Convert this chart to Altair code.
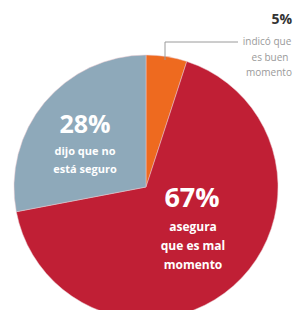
import altair as alt
import pandas as pd

categories = ["bueno", "malo", "no seguro"]
values = [5, 67, 28]
colors = ["#ee6a1f", "#c01f35", "#8ea9ba"]
order = [0, 1, 2]

df = pd.DataFrame({"cat": categories, "val": values, "ord": order})

CX, CY, R = 138, 179, 132

pie = alt.Chart(df).mark_arc(stroke="#e9c9ce", strokeWidth=0.5).encode(
    theta=alt.Theta("val:Q", stack=True),
    order=alt.Order("ord:Q"),
    color=alt.Color("cat:N", scale=alt.Scale(domain=categories, range=colors), legend=None),
    x=alt.value(CX), y=alt.value(CY), radius=alt.value(R),
)

base = alt.Chart(pd.DataFrame({"a": [0]}))

def txt(s, x, y, size, color, weight="bold", align="center"):
    return base.mark_text(text=s, fontSize=size, fontWeight=weight, color=color,
                          font="Open Sans", align=align, baseline="middle").encode(
        x=alt.value(x), y=alt.value(y))

labels = [
    txt("28%", 77, 117, 25, "white"),
    txt("dijo que no", 77, 144, 11, "white"),
    txt("está seguro", 77, 162, 11, "white"),
    txt("67%", 184, 191, 27, "white"),
    txt("asegura", 185, 219, 12, "white"),
    txt("que es mal", 185, 238, 12, "white"),
    txt("momento", 185, 257, 12, "white"),
    txt("5%", 284, 12, 14, "#333333", align="right"),
    txt("indicó que", 259, 34, 10, "#9a9a9a", weight="normal"),
    txt("es buen", 262, 50, 10, "#9a9a9a", weight="normal"),
    txt("momento", 261, 65, 10, "#9a9a9a", weight="normal"),
]

hline = base.mark_rule(color="#9a9a9a", strokeWidth=1).encode(
    x=alt.value(157), x2=alt.value(230), y=alt.value(34))
vline = base.mark_rule(color="#9a9a9a", strokeWidth=1).encode(
    x=alt.value(157), y=alt.value(34), y2=alt.value(52))

chart = alt.layer(pie, hline, vline, *labels).properties(
    width=285, height=302,
    autosize=alt.AutoSizeParams(type="fit", contains="padding"),
    padding=0,
).configure_view(stroke=None)

chart.save("out.html", embed_options={"renderer": "svg", "actions": False})
